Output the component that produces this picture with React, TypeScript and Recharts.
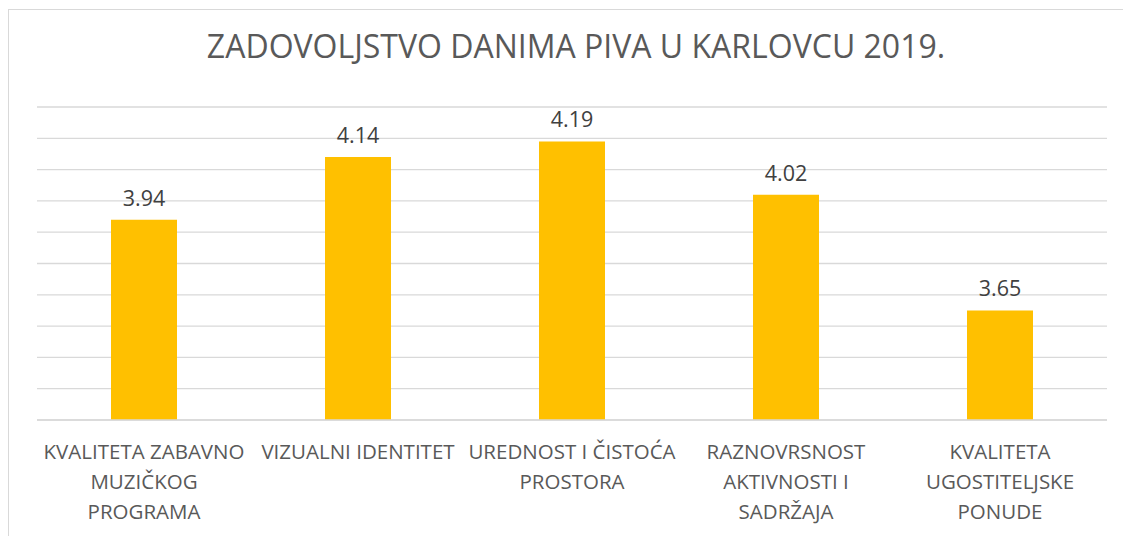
import { BarChart, Bar, XAxis, YAxis, CartesianGrid, LabelList } from 'recharts'

const title = 'ZADOVOLJSTVO DANIMA PIVA U KARLOVCU 2019.'
// category names, "\n" marks where the original label wraps
const categories = [
  'KVALITETA ZABAVNO\nMUZIČKOG\nPROGRAMA',
  'VIZUALNI IDENTITET',
  'UREDNOST I ČISTOĆA\nPROSTORA',
  'RAZNOVRSNOST\nAKTIVNOSTI I\nSADRŽAJA',
  'KVALITETA\nUGOSTITELJSKE\nPONUDE',
]
const scores = [3.94, 4.14, 4.19, 4.02, 3.65]
const yTicks = [3.3, 3.4, 3.5, 3.6, 3.7, 3.8, 3.9, 4.0, 4.1, 4.2, 4.3]

const data = categories.map((name, i) => ({ name, score: scores[i] }))

const FONT = '"Open Sans", "Noto Sans", sans-serif'

function CategoryTick({ x, y, payload }: any) {
  const lines = String(payload.value).split('\n')
  return (
    <text x={x} y={y + 31} textAnchor="middle" fill="#595959" fontSize={20.5} fontFamily={FONT}>
      {lines.map((l, i) => (
        <tspan key={i} x={x} dy={i === 0 ? 0 : 30}>{l}</tspan>
      ))}
    </text>
  )
}

export default function App() {
  return (
    <div style={{ position: 'absolute', left: 0, top: 0, width: 1123, height: 536, background: '#fff' }}>
      <div style={{ position: 'absolute', left: 8, top: 9, width: 1130, height: 540, border: '1px solid #d9d9d9' }} />
      <div style={{ position: 'absolute', left: 0, top: 24, width: 1152, textAlign: 'center', fontFamily: FONT, fontSize: 32, color: '#595959', whiteSpace: 'nowrap' }}>
        {title}
      </div>
      <div style={{ position: 'absolute', left: 0, top: 0 }}>
        <BarChart width={1123} height={536} data={data} margin={{ top: 107, right: 16, bottom: 0, left: 37 }}>
          <CartesianGrid vertical={false} stroke="#d9d9d9" strokeWidth={1.3} />
          <XAxis dataKey="name" height={116} interval={0} tickLine={false} axisLine={{ stroke: '#d9d9d9', strokeWidth: 1.3 }} tick={<CategoryTick />} />
          <YAxis hide width={0} domain={[3.3, 4.3]} ticks={yTicks} />
          <Bar dataKey="score" fill="#FFC000" barSize={66} isAnimationActive={false}>
            <LabelList dataKey="score" position="top" offset={14} fill="#404040" fontSize={21.5} fontFamily={FONT} formatter={(v: any) => Number(v).toFixed(2)} />
          </Bar>
        </BarChart>
      </div>
    </div>
  )
}
